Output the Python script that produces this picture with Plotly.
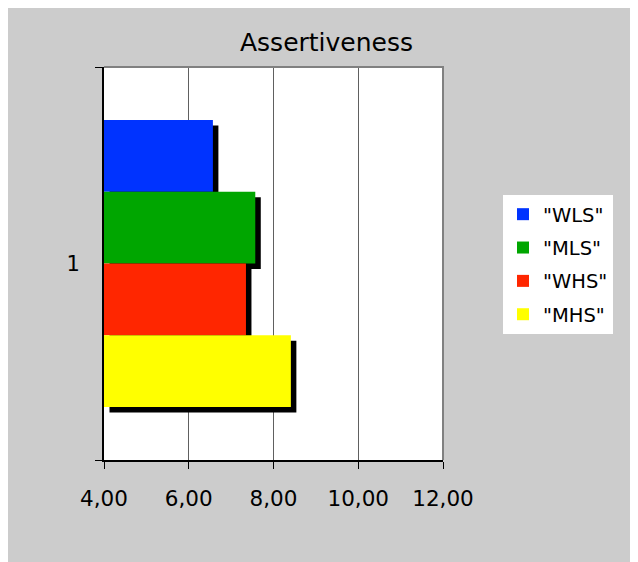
import plotly.graph_objects as go

# ---- data ----
categories = ["1"]
series_names = ['"WLS"', '"MLS"', '"WHS"', '"MHS"']
values = [6.57, 7.57, 7.35, 8.41]
colors = ["#0033ff", "#00a600", "#ff2600", "#ffff00"]
x_ticks = [4, 6, 8, 10, 12]

# ---- layout geometry (pixels, figure sits at page offset 8,8) ----
OFF = 8
W, H = 630, 554
L, T = 96, 59
PW, PH = 339, 393
R, B = W - L - PW, H - T - PH
x_min, x_max = 4, 12

def px_x(page_x):
    return (page_x - OFF - L) / PW

def px_y(page_y):
    return (H - B - (page_y - OFF)) / PH

group = 0.73
bw = group / len(values)
sh_px = 5.5
dx = sh_px / PW * (x_max - x_min)
dy = sh_px / PH

fig = go.Figure()

# shadows first
for i, v in enumerate(values):
    off = group / 2 - (i + 1) * bw
    fig.add_trace(go.Bar(
        y=categories, x=[v - x_min], base=[x_min + dx], orientation="h",
        width=bw, offset=off - dy, marker=dict(color="black", line=dict(width=0)),
        showlegend=False, hoverinfo="skip"))

for i, (name, v, c) in enumerate(zip(series_names, values, colors)):
    off = group / 2 - (i + 1) * bw
    fig.add_trace(go.Bar(
        y=categories, x=[v], orientation="h", name=name,
        width=bw, offset=off, legendgroup=name,
        marker=dict(color=c, line=dict(width=0))))

fig.update_layout(
    width=W, height=H,
    margin=dict(l=L, r=R, t=T, b=B, pad=0),
    barmode="overlay",
    separators=",.",
    paper_bgcolor="#cccccc",
    plot_bgcolor="white",
    font=dict(family="DejaVu Sans", color="black"),
    title=dict(text="Assertiveness", font=dict(size=25, family="DejaVu Sans", color="black"),
               xref="container", x=(326.5 - OFF) / W, xanchor="center",
               yref="container", y=1 - (42.5 - OFF) / H, yanchor="middle"),
    xaxis=dict(range=[x_min, x_max], tickvals=x_ticks, tickformat=".2f",
               showgrid=True, gridcolor="#606060", gridwidth=1,
               showline=True, linecolor="black", linewidth=1.5,
               ticks="outside", ticklen=7, tickcolor="black", tickwidth=1,
               tickfont=dict(size=21.5), ticklabelstandoff=11, zeroline=False),
    yaxis=dict(range=[-0.5, 0.5], type="category", tickson="boundaries",
               showgrid=False, showline=True, linecolor="black", linewidth=2,
               ticks="outside", ticklen=7, tickcolor="black", tickwidth=1,
               tickfont=dict(size=21), ticklabelstandoff=18),
    legend=dict(x=px_x(503), y=px_y(195), xanchor="left", yanchor="top",
                bgcolor="white", borderwidth=0, font=dict(size=19.5),
                traceorder="grouped", tracegroupgap=5),
    shapes=[
        dict(type="path", xref="paper", yref="paper", path="M 0,1 L 1,1 L 1,0",
             line=dict(color="#808080", width=2), layer="above"),
    ],
)

fig.write_html("out.html")
